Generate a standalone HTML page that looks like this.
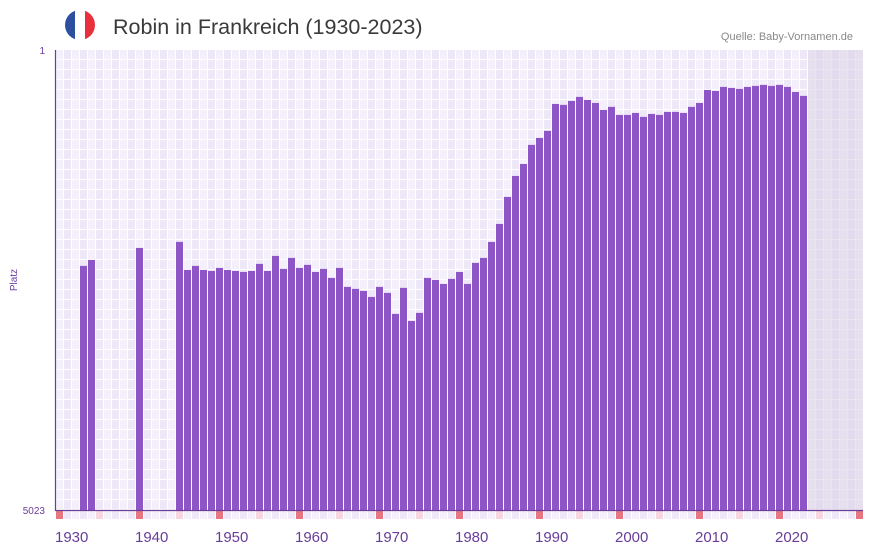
<!DOCTYPE html>
<html><head><meta charset="utf-8"><style>
body{margin:0;background:#fff;font-family:"Liberation Sans",sans-serif;}
svg{display:block}
</style></head><body>
<svg id="c" width="873" height="552">
<defs>
<pattern id="grid" x="56" y="50" width="16" height="10" patternUnits="userSpaceOnUse">
<rect x="0" y="0" width="16" height="10" fill="#fff"/>
<rect x="0" y="0" width="7" height="9" fill="#f4f0fb"/>
<rect x="8" y="0" width="7" height="9" fill="#ede7f8"/>
</pattern>
<clipPath id="fc"><circle cx="80" cy="25" r="15"/></clipPath>
</defs>
<g clip-path="url(#fc)">
<rect x="65" y="10" width="10" height="30" fill="#2d4fa0"/>
<rect x="75" y="10" width="10" height="30" fill="#fff"/>
<rect x="85" y="10" width="10" height="30" fill="#e8303c"/>
</g>
<text x="113" y="34" font-size="21.5" fill="#3a3a3a">Robin in Frankreich (1930-2023)</text>
<text x="853" y="40" font-size="11" fill="#888" text-anchor="end">Quelle: Baby-Vornamen.de</text>
<rect x="56" y="50" width="807" height="460" fill="url(#grid)"/>
<rect x="808" y="50" width="55" height="460" fill="#d8d2e4" opacity="0.55"/>
<g id="markers"></g>
<g id="bars"></g>
<line x1="55.5" y1="50" x2="55.5" y2="511" stroke="#6a3d9a" stroke-width="1.2"/>
<line x1="55" y1="510.5" x2="863" y2="510.5" stroke="#6a3d9a" stroke-width="1.2"/>
<text x="45" y="54" font-size="10" fill="#6a3d9a" text-anchor="end">1</text>
<text x="45" y="514" font-size="10" fill="#6a3d9a" text-anchor="end">5023</text>
<text x="17" y="280" font-size="10" fill="#6a3d9a" text-anchor="middle" transform="rotate(-90 17 280)">Platz</text>
<g id="xlabels"></g>
</svg>
<script>
const years=[1933,1934,1940,1945,1946,1947,1948,1949,1950,1951,1952,1953,1954,1955,1956,1957,1958,1959,1960,1961,1962,1963,1964,1965,1966,1967,1968,1969,1970,1971,1972,1973,1974,1975,1976,1977,1978,1979,1980,1981,1982,1983,1984,1985,1986,1987,1988,1989,1990,1991,1992,1993,1994,1995,1996,1997,1998,1999,2000,2001,2002,2003,2004,2005,2006,2007,2008,2009,2010,2011,2012,2013,2014,2015,2016,2017,2018,2019,2020,2021,2022,2023];
const ranks=[2358,2293,2162,2096,2402,2358,2402,2413,2380,2402,2413,2424,2413,2336,2413,2249,2391,2271,2380,2347,2424,2391,2489,2380,2587,2609,2631,2697,2587,2653,2882,2598,2959,2871,2489,2511,2555,2500,2424,2555,2325,2271,2096,1900,1605,1376,1245,1037,961,884,590,600,557,513,546,579,655,622,710,710,688,731,699,710,677,677,688,622,579,437,448,404,415,426,404,393,382,393,382,404,459,502];
const tickLabels=["1930","1940","1950","1960","1970","1980","1990","2000","2010","2020"];
const NS="http://www.w3.org/2000/svg";
const x0=56, yearW=8, startYear=1930, endYear=2030;
const yTop=50, yBot=510, rMin=1, rMax=5023;
function xs(y){return x0+(y-startYear)*yearW;}
function ys(r){return yTop+(r-rMin)/(rMax-rMin)*(yBot-yTop);}
const bg=document.getElementById('bars');
years.forEach((yr,i)=>{
  const r=document.createElementNS(NS,'rect');
  const t=ys(ranks[i]);
  r.setAttribute('x',xs(yr));r.setAttribute('y',t);
  r.setAttribute('width',7);r.setAttribute('height',yBot-t);
  r.setAttribute('fill','#8e55c6');
  
  
  bg.appendChild(r);
});
const mg=document.getElementById('markers');
for(let yr=startYear;yr<=endYear;yr++){
  const r=document.createElementNS(NS,'rect');
  r.setAttribute('x',xs(yr));r.setAttribute('y',511);
  r.setAttribute('width',7);r.setAttribute('height',8);
  let c=(yr-startYear)%2?'#ede7f8':'#f4f0fb';
  if(yr%10===0)c='#e67780';else if(yr%5===0)c='#f6d6df';
  r.setAttribute('fill',c);
  
  
  mg.appendChild(r);
}
const xl=document.getElementById('xlabels');
tickLabels.forEach(l=>{
  const t=document.createElementNS(NS,'text');
  t.setAttribute('x',xs(+l)-1);t.setAttribute('y',542);
  t.setAttribute('font-size','15');t.setAttribute('fill','#6a3d9a');
  t.textContent=l;
  
  
  xl.appendChild(t);
});
</script>
</body></html>
